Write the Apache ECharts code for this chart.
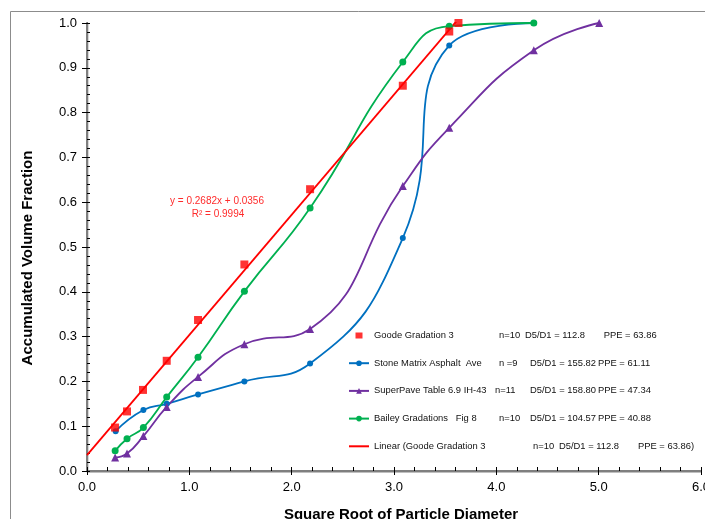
<!DOCTYPE html>
<html><head><meta charset="utf-8">
<script src="https://cdn.jsdelivr.net/npm/echarts@6/dist/echarts.min.js"></script>
<style>html,body{margin:0;padding:0;background:#fff}#c{width:705px;height:519px}</style>
</head><body><div id="c"></div>
<script>
// ---- data ----
const seriesNames = ['Goode Gradation 3', 'Stone Matrix Asphalt  Ave', 'SuperPave Table 6.9 IH-43', 'Bailey Gradations   Fig 8', 'Linear (Goode Gradation 3'];
const legendN = ['n=10', 'n =9', 'n=11', 'n=10', 'n=10'];
const legendD5D1 = ['D5/D1 = 112.8', 'D5/D1 = 155.82', 'D5/D1 = 158.80', 'D5/D1 = 104.57', 'D5/D1 = 112.8'];
const legendPPE = ['PPE = 63.86', 'PPE = 61.11', 'PPE = 47.34', 'PPE = 40.88', 'PPE = 63.86)'];

const xGoode = [0.274, 0.391, 0.547, 0.779, 1.085, 1.538, 2.18, 3.086, 3.54, 3.63];
const yGoode = [0.097, 0.133, 0.181, 0.246, 0.337, 0.461, 0.629, 0.860, 0.981, 1.0];
const xSMA = [0.28, 0.551, 0.779, 1.085, 1.538, 2.18, 3.086, 3.54, 4.366];
const ySMA = [0.089, 0.136, 0.150, 0.171, 0.200, 0.240, 0.520, 0.950, 1.0];
const xSP = [0.275, 0.391, 0.551, 0.779, 1.085, 1.538, 2.18, 3.086, 3.54, 4.366, 5.005];
const ySP = [0.030, 0.039, 0.078, 0.143, 0.210, 0.283, 0.317, 0.636, 0.766, 0.939, 1.0];
const xBailey = [0.275, 0.391, 0.551, 0.779, 1.085, 1.538, 2.18, 3.086, 3.54, 4.366];
const yBailey = [0.045, 0.072, 0.097, 0.165, 0.254, 0.401, 0.587, 0.913, 0.993, 1.0];
const xTrend = [0, 3.63];
const yTrend = [0.0356, 1.0092];
const trendEquation = 'y = 0.2682x + 0.0356';
const trendR2 = 'R² = 0.9994';
const xTicks = [0, 1, 2, 3, 4, 5, 6];
const yTicks = [0, 0.1, 0.2, 0.3, 0.4, 0.5, 0.6, 0.7, 0.8, 0.9, 1.0];
const xTitle = 'Square Root of Particle Diameter';
const yTitle = 'Accumulated Volume Fraction';

const zip = (xs, ys) => xs.map((x, i) => [x, ys[i]]);

// ---- layout ----
const colWidths = [ // name, n, D5/D1 column widths per legend row
  [125, 26, 78.7], [125, 31, 68], [121, 35, 68], [125, 31, 68], [159, 26, 79]
];
const LF = 9.4;
const rich = {};
colWidths.forEach((w, i) => {
  rich['a' + i] = { width: w[0], fontSize: LF, lineHeight: 12, color: '#111', fontFamily: 'Liberation Sans' };
  rich['b' + i] = { width: w[1], fontSize: LF, lineHeight: 12, color: '#111', fontFamily: 'Liberation Sans' };
  rich['c' + i] = { width: w[2], fontSize: LF, lineHeight: 12, color: '#111', fontFamily: 'Liberation Sans' };
});
rich.p = { fontSize: LF, lineHeight: 12, color: '#111', fontFamily: 'Liberation Sans' };

const labelStyle = { color: '#000', fontSize: 13, fontFamily: 'Liberation Sans' };
const squareIcon = 'path://M0,0L0.01,0M20,7L19.99,7M6.5,0.5L13.5,0.5L13.5,6.5L6.5,6.5Z';

const chart = echarts.init(document.getElementById('c'), null, { renderer: 'canvas' });
chart.setOption({
  animation: false,
  backgroundColor: '#fff',
  grid: { left: 87, right: 4, top: 23, bottom: 48, containLabel: false, outerBoundsMode: 'none' },
  legend: {
    orient: 'vertical', left: 348, top: 331, padding: 0,
    itemWidth: 20, itemHeight: 7, itemGap: 18.7,
    data: seriesNames.map((n, i) => i === 4 ? { name: n, itemStyle: { opacity: 0 } }
                                   : i === 0 ? { name: n, icon: squareIcon } : { name: n }),
    formatter: name => {
      const i = seriesNames.indexOf(name);
      return `{a${i}|${name}}{b${i}|${legendN[i]}}{c${i}|${legendD5D1[i]}}{p|${legendPPE[i]}}`;
    },
    textStyle: { rich: rich }
  },
  xAxis: [
    {
      type: 'value', min: 0, max: 6, interval: 1, position: 'bottom',
      axisLine: { show: true, onZero: false, lineStyle: { color: '#000', width: 1.3 } },
      axisTick: { show: true, inside: true, length: 4, lineStyle: { color: '#000' } },
      minorTick: { show: true, splitNumber: 5, length: 4, lineStyle: { color: '#000' } },
      splitLine: { show: false },
      axisLabel: Object.assign({ margin: 10, formatter: v => xTicks.includes(v) ? v.toFixed(1) : '' }, labelStyle),
      name: xTitle, nameLocation: 'middle', nameGap: 36,
      nameTextStyle: { fontSize: 15, fontWeight: 'bold', color: '#000', fontFamily: 'Liberation Sans', padding: [0, 0, 0, 14] }
    },
    {
      type: 'value', min: 0, max: 6, interval: 1, position: 'bottom',
      axisLine: { show: false }, axisTick: { show: true, inside: false, length: 4, lineStyle: { color: '#000' } },
      axisLabel: { show: false }, splitLine: { show: false }
    },
    {
      type: 'value', min: 0, max: 6, position: 'top',
      axisLine: { show: true, lineStyle: { color: '#7f7f7f', width: 2 } },
      axisTick: { show: false }, axisLabel: { show: false }, splitLine: { show: false }
    }
  ],
  yAxis: [
    {
      type: 'value', min: 0, max: 1, interval: 0.1, position: 'left',
      axisLine: { show: true, onZero: false, lineStyle: { color: '#000', width: 1.3 } },
      axisTick: { show: true, inside: true, length: 3, lineStyle: { color: '#000' } },
      minorTick: { show: true, splitNumber: 5, length: 3, lineStyle: { color: '#000' } },
      splitLine: { show: false },
      axisLabel: Object.assign({ margin: 10, formatter: v => yTicks.some(t => Math.abs(t - v) < 1e-9) ? v.toFixed(1) : '' }, labelStyle),
      name: yTitle, nameLocation: 'middle', nameGap: 52, nameRotate: 90,
      nameTextStyle: { fontSize: 15, fontWeight: 'bold', color: '#000', fontFamily: 'Liberation Sans', padding: [0, 22, 0, 0] }
    },
    {
      type: 'value', min: 0, max: 1, interval: 0.1, position: 'left',
      axisLine: { show: false }, axisTick: { show: true, inside: false, length: 5, lineStyle: { color: '#000' } },
      axisLabel: { show: false }, splitLine: { show: false }
    },
    {
      type: 'value', min: 0, max: 1, position: 'right',
      axisLine: { show: true, lineStyle: { color: '#7f7f7f', width: 2 } },
      axisTick: { show: false }, axisLabel: { show: false }, splitLine: { show: false }
    }
  ],
  graphic: [
    { type: 'rect', z: -1, shape: { x: 10.5, y: 11.5, width: 720, height: 540 }, style: { fill: 'none', stroke: '#8c8c8c', lineWidth: 1 } },
    { type: 'text', x: 217, y: 201, style: { text: trendEquation, fill: '#ff2b2b', font: '10px "Liberation Sans"', textAlign: 'center', textVerticalAlign: 'middle' } },
    { type: 'text', x: 218, y: 214, style: { text: trendR2, fill: '#ff2b2b', font: '10px "Liberation Sans"', textAlign: 'center', textVerticalAlign: 'middle' } }
  ],
  series: [
    {
      name: seriesNames[0], type: 'scatter', symbol: 'rect', symbolSize: 8,
      itemStyle: { color: '#ff0000' }, data: zip(xGoode, yGoode), z: 5
    },
    {
      name: seriesNames[1], type: 'line', smooth: 0.5, symbol: 'circle', symbolSize: 6,
      lineStyle: { color: '#0070c0', width: 1.8 }, itemStyle: { color: '#0070c0' }, data: zip(xSMA, ySMA)
    },
    {
      name: seriesNames[2], type: 'line', smooth: 0.5, symbol: 'triangle', symbolSize: 8,
      lineStyle: { color: '#7030a0', width: 1.8 }, itemStyle: { color: '#7030a0' }, data: zip(xSP, ySP)
    },
    {
      name: seriesNames[3], type: 'line', smooth: 0.5, symbol: 'circle', symbolSize: 7,
      lineStyle: { color: '#00b050', width: 1.8 }, itemStyle: { color: '#00b050' }, data: zip(xBailey, yBailey)
    },
    {
      name: seriesNames[4], type: 'line', symbol: 'none', clip: true,
      lineStyle: { color: '#ff0000', width: 1.8 }, itemStyle: { color: '#ff0000' }, data: zip(xTrend, yTrend)
    }
  ]
});
</script>
</body></html>
